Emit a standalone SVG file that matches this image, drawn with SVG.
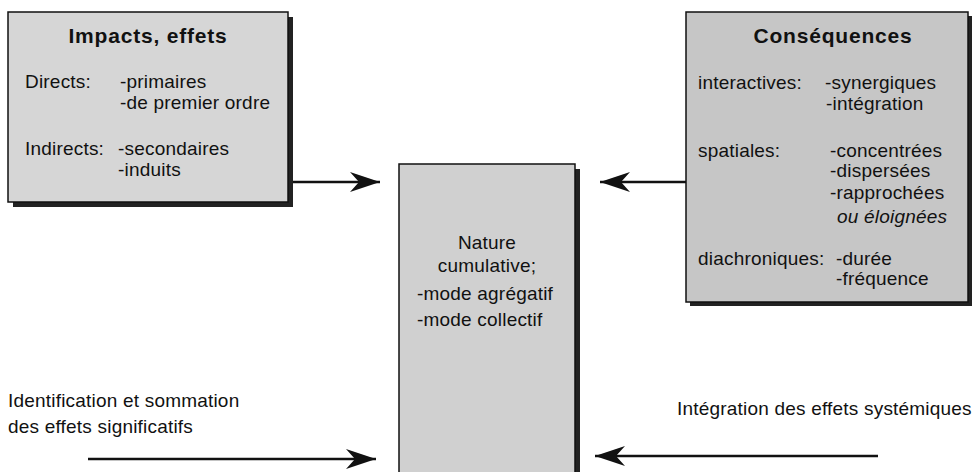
<svg xmlns="http://www.w3.org/2000/svg" width="972" height="472" viewBox="0 0 972 472">
<defs>
<style>
text{font-family:"Liberation Sans",Arial,sans-serif;font-size:19px;letter-spacing:0.2px;fill:#111;}
.t{font-weight:bold;font-size:21px;letter-spacing:0.8px;text-anchor:middle;}
.c{text-anchor:middle;}
.box{stroke:#111;stroke-width:1.5;}
.sh{fill:#222;}
.ln{stroke:#111;stroke-width:2.5;fill:none;}
</style>
<marker id="ah" viewBox="-30 -10 31 20" refX="0" refY="0" markerWidth="31" markerHeight="20" markerUnits="userSpaceOnUse" orient="auto">
<path d="M0,0 L-30,-10 L-21,0 L-30,10 Z" fill="#111"/>
</marker>
</defs>
<rect width="972" height="472" fill="#fff"/>
<g id="impacts">
<rect class="sh" x="13" y="17" width="280" height="190"/>
<rect class="box" x="8" y="12" width="280" height="190" fill="#d6d6d6"/>
<text class="t" x="148" y="43">Impacts, effets</text>
<text x="25" y="88">Directs:</text>
<text x="120" y="88">-primaires</text>
<text x="120" y="109">-de premier ordre</text>
<text x="25" y="155">Indirects:</text>
<text x="118" y="155">-secondaires</text>
<text x="118" y="176">-induits</text>
</g>
<g id="consequences">
<rect class="sh" x="690" y="16" width="282" height="290"/>
<rect class="box" x="686" y="12" width="282" height="290" fill="#c6c6c6"/>
<text class="t" x="833" y="43">Conséquences</text>
<text x="698" y="89">interactives:</text>
<text x="825" y="89">-synergiques</text>
<text x="826" y="110">-intégration</text>
<text x="698" y="157">spatiales:</text>
<text x="830" y="157">-concentrées</text>
<text x="830" y="177">-dispersées</text>
<text x="830" y="199">-rapprochées</text>
<text x="837" y="223" font-style="italic">ou éloignées</text>
<text x="698" y="265">diachroniques:</text>
<text x="836" y="265">-durée</text>
<text x="836" y="285">-fréquence</text>
</g>
<g id="nature">
<rect class="sh" x="404" y="169" width="176" height="310"/>
<rect class="box" x="399" y="164" width="176" height="312" fill="#d0d0d0"/>
<text class="c" x="487" y="249">Nature</text>
<text class="c" x="487" y="272">cumulative;</text>
<text x="417" y="300">-mode agrégatif</text>
<text x="417" y="326">-mode collectif</text>
</g>
<g id="labels">
<text x="8" y="407">Identification et sommation</text>
<text x="8" y="433">des effets significatifs</text>
<text x="677" y="415">Intégration des effets systémiques</text>
</g>
<g id="connectors">
<line class="ln" x1="293" y1="182" x2="380" y2="182" marker-end="url(#ah)"/>
<line class="ln" x1="686" y1="182" x2="600" y2="182" marker-end="url(#ah)"/>
<line class="ln" x1="88" y1="459" x2="376" y2="459" marker-end="url(#ah)"/>
<line class="ln" x1="878" y1="456" x2="595" y2="456" marker-end="url(#ah)"/>
</g>
</svg>
